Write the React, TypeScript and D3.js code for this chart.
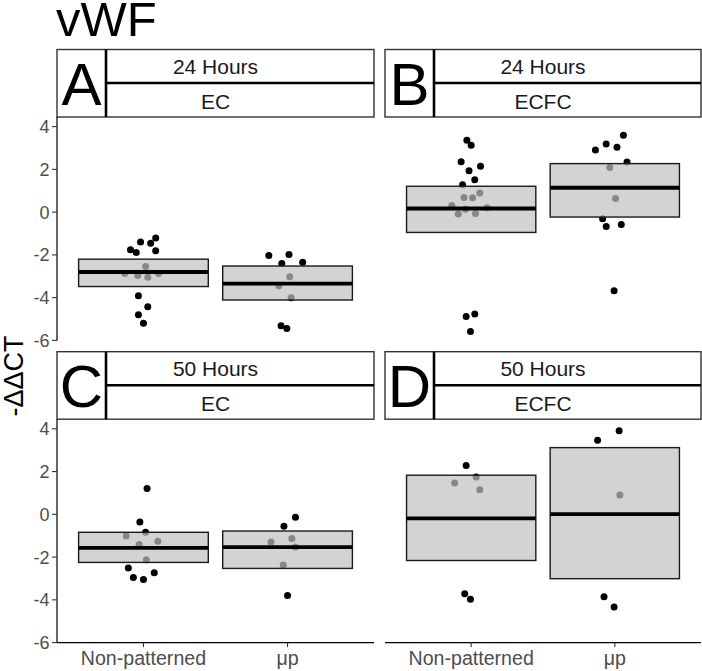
import React from "react";
import * as d3 from "d3";

// ---------- data ----------
const groups = ["Non-patterned", "μp"];
const letters = ["A", "B", "C", "D"];
const timeLabels = ["24 Hours", "24 Hours", "50 Hours", "50 Hours"];
const cellLabels = ["EC", "ECFC", "EC", "ECFC"];
const yTicks = [-6, -4, -2, 0, 2, 4];
const titleText = "vWF";
const yTitle = "-ΔΔCT";

// Panel A: 24 Hours, EC
const aNpVals = [-1.4, -1.45, -1.21, -1.76, -1.89, -1.81, -2.54, -2.87, -2.96, -3.05, -2.87, -3.91, -4.43, -4.8, -5.2];
const aNpJit = [-0.02, 0.05, 0.085, -0.09, -0.05, 0.085, 0.015, -0.13, -0.04, 0.03, 0.105, -0.035, 0.03, -0.035, 0];
const aUpVals = [-2.03, -1.98, -2.4, -2.34, -3.02, -3.44, -4.0, -5.31, -5.44];
const aUpJit = [-0.13, 0.01, -0.04, 0.105, 0.015, -0.06, 0.025, -0.045, -0.005];
// Panel B: 24 Hours, ECFC
const bNpVals = [3.36, 3.13, 2.36, 2.15, 1.93, 1.52, 1.28, 0.89, 0.68, 0.67, 0.31, 0.14, 0.2, -0.09, -0.06, -4.88, -4.77, -5.58];
const bNpJit = [-0.03, 0, -0.07, 0.065, -0.015, 0.025, -0.06, 0.06, -0.05, 0.01, -0.135, -0.04, 0.11, -0.09, 0.03, -0.035, 0.025, -0.005];
const bUpVals = [2.91, 3.19, 3.04, 3.6, 2.34, 2.09, 0.64, -0.31, -0.67, -0.58, -3.68];
const bUpJit = [-0.135, -0.06, 0.015, 0.06, 0.085, -0.035, 0.005, -0.085, -0.06, 0.045, -0.005];
// Panel C: 50 Hours, EC
const cNpVals = [1.21, -0.36, -0.84, -1.01, -1.26, -1.41, -2.12, -2.51, -2.73, -2.96, -3.05];
const cNpJit = [0.025, -0.025, 0.015, -0.12, 0.1, -0.03, 0.02, -0.105, 0.075, -0.07, 0];
const cUpVals = [-0.14, -0.56, -1.13, -1.3, -1.53, -2.37, -3.8];
const cUpJit = [0.055, -0.025, 0.03, -0.115, 0.055, -0.03, 0];
// Panel D: 50 Hours, ECFC
const dNpVals = [2.29, 1.75, 1.47, 1.15, -3.72, -3.97];
const dNpJit = [-0.035, 0.035, -0.115, 0.06, -0.045, -0.005];
const dUpVals = [3.91, 3.46, 0.9, -3.86, -4.33];
const dUpJit = [0.03, -0.12, 0.035, -0.075, -0.005];

// crossbar stats: [upper, middle, lower] for Non-patterned and μp
const aBoxes = [[-2.2, -2.8, -3.48], [-2.52, -3.34, -4.11]];
const bBoxes = [[1.21, 0.17, -0.95], [2.27, 1.14, -0.23]];
const cBoxes = [[-0.84, -1.57, -2.25], [-0.78, -1.53, -2.53]];
const dBoxes = [[1.83, -0.19, -2.16], [3.12, 0.01, -3.01]];

const panelPoints = [
  [[aNpVals, aNpJit], [aUpVals, aUpJit]],
  [[bNpVals, bNpJit], [bUpVals, bUpJit]],
  [[cNpVals, cNpJit], [cUpVals, cUpJit]],
  [[dNpVals, dNpJit], [dUpVals, dUpJit]],
];
const panelBoxes = [aBoxes, bBoxes, cBoxes, dBoxes];

// ---------- layout ----------
const W = 702;
const H = 671;
const FONT = "'Liberation Sans', Arial, Helvetica, sans-serif";
const colX: [number, number][] = [[57, 374], [385, 701]];
const rowStripTop = [49.5, 351.7];
const stripH = 67.5;
const panelH = 223.4;
const letterW = 49;

export default function App() {
  const panels = [0, 1, 2, 3].map((i) => {
    const col = i % 2;
    const row = Math.floor(i / 2);
    const [x0, x1] = colX[col];
    const sTop = rowStripTop[row];
    const pTop = sTop + stripH;
    const pBot = pTop + panelH;
    const x = d3.scaleLinear().domain([0.4, 2.6]).range([x0, x1]);
    const y = d3.scaleLinear().domain([-6, 4.45]).range([pBot, pTop]);
    return { i, col, row, x0, x1, sTop, pTop, pBot, x, y };
  });

  return (
    <svg
      width={W}
      height={H}
      style={{ position: "absolute", left: 0, top: 0, background: "#fff" }}
      fontFamily={FONT}
    >
      <rect x={0} y={0} width={W} height={H} fill="#fff" />
      <text x={56} y={36} fontSize={49} fill="#000">{titleText}</text>
      <text
        transform={`translate(23,376) rotate(-90)`}
        textAnchor="middle"
        fontSize={27}
        fill="#000"
      >
        {yTitle}
      </text>

      {panels.map((p) => {
        const cx = (p.x0 + p.x1) / 2;
        const lx = p.x0 + letterW;
        const halfW = 0.45;
        return (
          <g key={p.i}>
            {/* points (drawn under the translucent boxes) */}
            {panelPoints[p.i].map(([vals, jit], g) =>
              vals.map((v, k) => (
                <circle
                  key={`pt-${g}-${k}`}
                  cx={p.x(g + 1 + jit[k])}
                  cy={p.y(v)}
                  r={3.5}
                  fill="#000"
                />
              ))
            )}
            {/* crossbars */}
            {panelBoxes[p.i].map(([hi, mid, lo], g) => (
              <g key={`box-${g}`}>
                <rect
                  x={p.x(g + 1 - halfW)}
                  y={p.y(hi)}
                  width={p.x(g + 1 + halfW) - p.x(g + 1 - halfW)}
                  height={p.y(lo) - p.y(hi)}
                  fill="#C0C0C0"
                  fillOpacity={0.7}
                  stroke="#1a1a1a"
                  strokeWidth={1.4}
                />
                <line
                  x1={p.x(g + 1 - halfW)}
                  x2={p.x(g + 1 + halfW)}
                  y1={p.y(mid)}
                  y2={p.y(mid)}
                  stroke="#000"
                  strokeWidth={3.8}
                />
              </g>
            ))}

            {/* strip */}
            <rect
              x={p.x0}
              y={p.sTop}
              width={p.x1 - p.x0}
              height={stripH}
              fill="#fff"
              stroke="#333"
              strokeWidth={1.4}
            />
            <line x1={lx} x2={p.x1} y1={p.sTop + 33.5} y2={p.sTop + 33.5} stroke="#000" strokeWidth={2.6} />
            <line x1={lx} x2={lx} y1={p.sTop} y2={p.sTop + stripH} stroke="#000" strokeWidth={2.6} />
            <text x={cx} y={p.sTop + 24.5} textAnchor="middle" fontSize={21} fill="#1a1a1a">
              {timeLabels[p.i]}
            </text>
            <text x={cx} y={p.sTop + 59.5} textAnchor="middle" fontSize={21} fill="#1a1a1a">
              {cellLabels[p.i]}
            </text>
            <text x={p.x0 + letterW / 2} y={p.sTop + 55.5} textAnchor="middle" fontSize={60} fill="#000">
              {letters[p.i]}
            </text>

            {/* y axis on left column */}
            {p.col === 0 && (
              <g>
                <line x1={p.x0} x2={p.x0} y1={p.pTop} y2={p.pBot} stroke="#000" strokeWidth={1.2} />
                {yTicks.map((t) => (
                  <g key={`yt-${t}`}>
                    <line x1={p.x0 - 5} x2={p.x0} y1={p.y(t)} y2={p.y(t)} stroke="#333" strokeWidth={1.1} />
                    <text
                      x={p.x0 - 7.5}
                      y={p.y(t)}
                      dy="0.36em"
                      textAnchor="end"
                      fontSize={18}
                      fill="#4D4D4D"
                    >
                      {t}
                    </text>
                  </g>
                ))}
              </g>
            )}

            {/* x axis on bottom row */}
            {p.row === 1 && (
              <g>
                <line x1={p.x0} x2={p.x1} y1={p.pBot} y2={p.pBot} stroke="#000" strokeWidth={1.2} />
                {groups.map((gname, g) => (
                  <g key={`xt-${g}`}>
                    <line x1={p.x(g + 1)} x2={p.x(g + 1)} y1={p.pBot} y2={p.pBot + 4.5} stroke="#333" strokeWidth={1.1} />
                    <text x={p.x(g + 1)} y={p.pBot + 22.7} textAnchor="middle" fontSize={19.6} fill="#4D4D4D">
                      {gname}
                    </text>
                  </g>
                ))}
              </g>
            )}
          </g>
        );
      })}
    </svg>
  );
}
